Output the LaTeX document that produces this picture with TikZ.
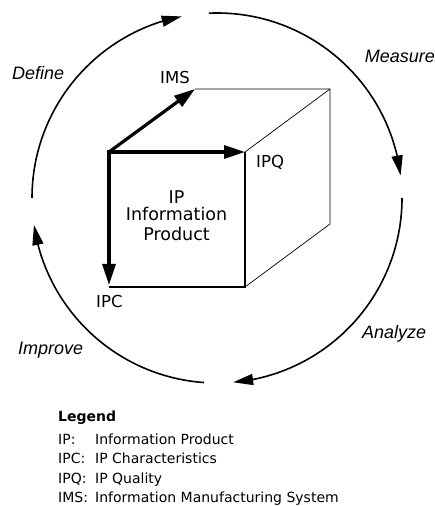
\documentclass[tikz,border=0pt]{standalone}
\usepackage{fontspec}
\setmainfont{DejaVu Sans}
\newfontfamily\labfont{Liberation Sans}
\usetikzlibrary{arrows.meta,bending,calc}
\begin{document}
\begin{tikzpicture}[x=1pt,y=1pt,
  cyc/.style={line width=1.6pt,-{Triangle[length=20pt,width=11pt]}},
  thickarr/.style={line width=3.2pt,line cap=rect,-{Triangle[length=21pt,width=13pt]}},
  backedge/.style={line width=0.7pt,draw=black},
  frontedge/.style={line width=1.4pt},
  lbl/.style={inner sep=0pt,anchor=base west,font=\fontsize{16.5}{19}\selectfont},
  phase/.style={inner sep=0pt,font=\labfont\itshape\fontsize{18}{21}\selectfont},
  ctext/.style={inner sep=0pt,anchor=base,font=\fontsize{17.5}{20}\selectfont},
  leg/.style={inner sep=0pt,anchor=base west,font=\fontsize{14}{17}\selectfont},
]
\useasboundingbox (0,0) rectangle (435,506);
% cycle
\coordinate (c) at (217,308);
\draw[cyc] ($(c)+(180:185)$) arc[start angle=180,end angle=101,radius=185];
\draw[cyc] ($(c)+(92.5:185)$) arc[start angle=92.5,end angle=7,radius=185];
\draw[cyc] ($(c)+(0:185)$) arc[start angle=0,end angle=-85,radius=185];
\draw[cyc] ($(c)+(-94:185)$) arc[start angle=-94,end angle=-171.6,radius=185];
% cube corners
\coordinate (A) at (109,354);
\coordinate (B) at (245,354);
\coordinate (C) at (245,219);
\coordinate (D) at (109,219);
\coordinate (E) at (195,417);
\coordinate (F) at (330,417);
\coordinate (G) at (330,282);
\draw[backedge] (E) -- (F) -- (G) -- (C);
\draw[backedge] (F) -- (B);
\draw[frontedge] (B) -- (C) -- (D);
\draw[thickarr] (A) -- (E);
\draw[thickarr] (A) -- (B);
\draw[thickarr] (A) -- ($(D)+(0,2)$);
% labels
\node[lbl] (ims) at (160,422) {IMS};
\node[lbl] (ipq) at (256,338) {IPQ};
\node[lbl] (ipc) at (96,198) {IPC};
\node[ctext] (ip) at (176.5,302) {IP};
\node[ctext] (info) at (176.5,285) {Information};
\node[ctext] (prod) at (176.5,265) {Product};
\node[phase,anchor=base west] (define) at (12,426) {Define};
\node[phase,anchor=base east] (measure) at (435,443) {Measure};
\node[phase,anchor=base west] (analyze) at (362,167) {Analyze};
\node[phase,anchor=base west] (improve) at (18,151) {Improve};
% legend
\node[leg,font=\bfseries\fontsize{14}{17}\selectfont] (legend) at (58,84) {Legend};
\node[leg] (k1) at (58,61) {IP:};
\node[leg] (v1) at (95,61) {Information Product};
\node[leg] (k2) at (58,42) {IPC:};
\node[leg] (v2) at (95,42) {IP Characteristics};
\node[leg] (k3) at (58,23) {IPQ:};
\node[leg] (v3) at (95,23) {IP Quality};
\node[leg] (k4) at (58,3.5) {IMS:};
\node[leg] (v4) at (95,3.5) {Information Manufacturing System};
\end{tikzpicture}
\end{document}
